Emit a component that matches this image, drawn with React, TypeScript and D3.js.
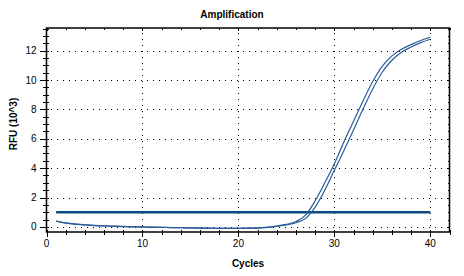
import React, { useEffect, useRef } from 'react';
import * as d3 from 'd3';

const cycles = d3.range(1, 41);

const wellA = [
  0.4, 0.27, 0.19, 0.14, 0.1, 0.07, 0.05, 0.03, 0.01, 0.0,
  -0.02, -0.03, -0.05, -0.06, -0.07, -0.08, -0.09, -0.1, -0.1, -0.1,
  -0.09, -0.07, -0.03, 0.06, 0.17, 0.36, 0.8, 1.78, 3.0, 4.3,
  5.8, 7.2, 8.6, 9.9, 10.95, 11.65, 12.1, 12.42, 12.7, 12.92,
];

const wellB = [
  0.39, 0.26, 0.18, 0.13, 0.09, 0.06, 0.04, 0.02, 0.0, -0.01,
  -0.03, -0.04, -0.05, -0.06, -0.07, -0.08, -0.09, -0.1, -0.1, -0.1,
  -0.09, -0.08, -0.04, 0.04, 0.13, 0.28, 0.58, 1.35, 2.5, 3.85,
  5.2, 6.6, 8.05, 9.4, 10.55, 11.35, 11.9, 12.25, 12.55, 12.78,
];

const threshold = 1.0;
const xTicks = [0, 10, 20, 30, 40];
const yTicks = [0, 2, 4, 6, 8, 10, 12];

const App: React.FC = () => {
  const svgRef = useRef<SVGSVGElement>(null);

  useEffect(() => {
    if (!svgRef.current) return;
    const width = 464;
    const height = 276;
    const margin = { top: 28, right: 14.5, bottom: 44, left: 46.5 };

    const svg = d3.select(svgRef.current);
    svg.selectAll("*").remove();

    const x = d3.scaleLinear().domain([0, 42]).range([margin.left, width - margin.right]);
    const y = d3.scaleLinear().domain([-0.35, 13.55]).range([height - margin.bottom, margin.top]);
    const [x0, x1] = x.range();
    const [y0, y1] = y.range();

    const font = "Arial, 'Liberation Sans', sans-serif";

    // dotted grid
    const grid = svg.append("g")
      .attr("stroke", "#000")
      .attr("stroke-width", 1)
      .attr("stroke-dasharray", "1,5")
      .attr("shape-rendering", "crispEdges");
    grid.selectAll("line.gx")
      .data(xTicks.filter(d => d > 0))
      .join("line")
      .attr("x1", d => Math.round(x(d)) + 0.5)
      .attr("x2", d => Math.round(x(d)) + 0.5)
      .attr("y1", y0)
      .attr("y2", y1);
    grid.selectAll("line.gy")
      .data(yTicks)
      .join("line")
      .attr("class", "gy")
      .attr("x1", x0 + 4)
      .attr("x2", x1)
      .attr("y1", d => Math.round(y(d)) + 0.5)
      .attr("y2", d => Math.round(y(d)) + 0.5);

    // threshold
    svg.append("line")
      .attr("x1", x(1))
      .attr("x2", x(40))
      .attr("y1", y(threshold))
      .attr("y2", y(threshold))
      .attr("stroke", "#0b4a82")
      .attr("stroke-width", 2.5);

    // amplification curves
    const line = d3.line<number>()
      .x((_, i) => x(cycles[i]))
      .y(d => y(d))
      .curve(d3.curveMonotoneX);

    svg.append("g")
      .attr("fill", "none")
      .attr("stroke", "#285c96")
      .attr("stroke-width", 1.2)
      .selectAll("path")
      .data([wellA, wellB])
      .join("path")
      .attr("d", d => line(d));

    // frame
    svg.append("rect")
      .attr("x", x0)
      .attr("y", y1)
      .attr("width", x1 - x0)
      .attr("height", y0 - y1)
      .attr("fill", "none")
      .attr("stroke", "#000")
      .attr("stroke-width", 1.5);

    const ticks = svg.append("g").attr("stroke", "#000").attr("stroke-width", 1).attr("shape-rendering", "crispEdges");

    // x ticks (bottom outward, top inward)
    const xMinor = d3.range(0, 42.01, 2);
    ticks.selectAll("line.xb")
      .data(xMinor)
      .join("line")
      .attr("class", "xb")
      .attr("x1", d => Math.round(x(d)) + 0.5)
      .attr("x2", d => Math.round(x(d)) + 0.5)
      .attr("y1", y0 - 2)
      .attr("y2", d => y0 + (d % 10 === 0 ? 5 : 3));
    ticks.selectAll("line.xt")
      .data(xMinor)
      .join("line")
      .attr("class", "xt")
      .attr("x1", d => Math.round(x(d)) + 0.5)
      .attr("x2", d => Math.round(x(d)) + 0.5)
      .attr("y1", y1)
      .attr("y2", d => y1 + (d % 10 === 0 ? 3 : 2));

    // y ticks (left outward, right inward)
    const yMinor = d3.range(0, 13.51, 0.5);
    ticks.selectAll("line.yl")
      .data(yMinor)
      .join("line")
      .attr("class", "yl")
      .attr("y1", d => Math.round(y(d)) + 0.5)
      .attr("y2", d => Math.round(y(d)) + 0.5)
      .attr("x1", d => x0 - (d % 2 === 0 ? 7 : 3.5))
      .attr("x2", x0 + 2.5);
    ticks.selectAll("line.yr")
      .data(yMinor)
      .join("line")
      .attr("class", "yr")
      .attr("y1", d => Math.round(y(d)) + 0.5)
      .attr("y2", d => Math.round(y(d)) + 0.5)
      .attr("x1", x1)
      .attr("x2", d => x1 - (d % 2 === 0 ? 3 : 2));

    // tick labels
    svg.append("g")
      .selectAll("text")
      .data(xTicks)
      .join("text")
      .attr("x", d => x(d))
      .attr("y", y0 + 15)
      .attr("text-anchor", "middle")
      .attr("font-family", font)
      .attr("font-size", 10)
      .text(d => d);

    svg.append("g")
      .selectAll("text")
      .data(yTicks)
      .join("text")
      .attr("x", x0 - 10)
      .attr("y", d => y(d) + 3.5)
      .attr("text-anchor", "end")
      .attr("font-family", font)
      .attr("font-size", 10)
      .text(d => d);

    // titles
    svg.append("text")
      .attr("x", width / 2)
      .attr("y", 18)
      .attr("text-anchor", "middle")
      .attr("font-family", font)
      .attr("font-size", 10)
      .attr("font-weight", "bold")
      .text("Amplification");

    svg.append("text")
      .attr("x", (x0 + x1) / 2)
      .attr("y", 267)
      .attr("text-anchor", "middle")
      .attr("font-family", font)
      .attr("font-size", 10)
      .attr("font-weight", "bold")
      .text("Cycles");

    svg.append("text")
      .attr("transform", `translate(17,124) rotate(-90)`)
      .attr("text-anchor", "middle")
      .attr("font-family", font)
      .attr("font-size", 10)
      .attr("font-weight", "bold")
      .text("RFU (10^3)");
  }, []);

  return (
    <div style={{ position: 'absolute', left: 0, top: 0, background: '#fff' }}>
      <svg ref={svgRef} width={464} height={276} style={{ display: 'block' }} />
    </div>
  );
};

export default App;
